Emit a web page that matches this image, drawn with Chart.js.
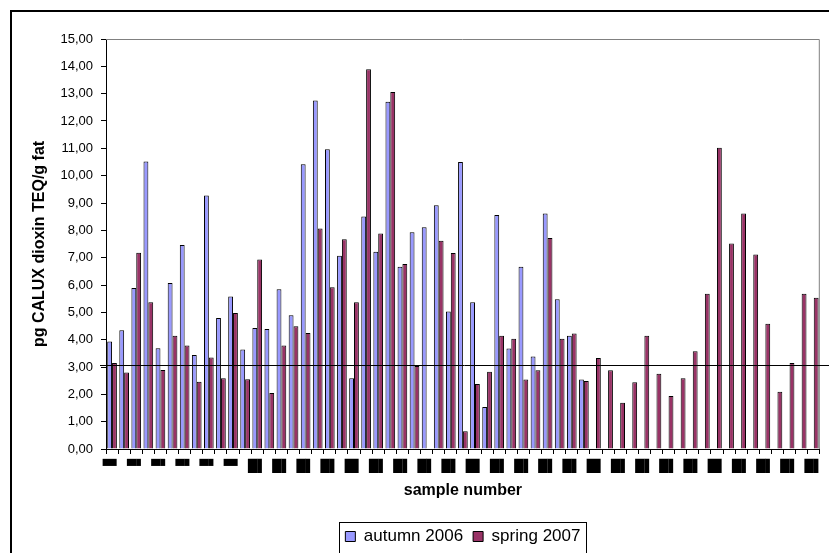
<!DOCTYPE html>
<html>
<head>
<meta charset="utf-8">
<script src="https://cdn.jsdelivr.net/npm/chart.js@4"></script>
<style>
  body { margin: 0; background: #ffffff; }
  canvas { display: block; }
</style>
</head>
<body>
<canvas id="dioxin-chart" width="829" height="553"></canvas>
<script>
/* values, one entry per sample */
const autumn2006 = [3.93, 4.34, 5.89, 10.52, 3.69, 6.07, 7.46, 3.44, 9.27, 4.79,
    5.58, 3.64, 4.43, 4.39, 5.84, 4.89, 10.42, 12.75, 10.97, 7.07,
    2.59, 8.51, 7.22, 12.70, 6.67, 7.93, 8.11, 8.92, 5.03, 10.50,
    5.37, 1.54, 8.56, 3.68, 6.67, 3.38, 8.62, 5.48, 4.14, 2.54,
    null, null, null, null, null, null, null, null, null, null,
    null, null, null, null, null, null, null, null, null];

const spring2007 = [3.15, 2.80, 7.18, 5.37, 2.89, 4.14, 3.79, 2.46, 3.35, 2.59,
    4.98, 2.55, 6.93, 2.05, 3.79, 4.49, 4.24, 8.07, 5.92, 7.67,
    5.37, 13.89, 7.88, 13.06, 6.77, 3.04, null, 7.62, 7.17, 0.65,
    2.38, 2.83, 4.14, 4.03, 2.54, 2.88, 7.72, 4.03, 4.23, 2.49,
    3.33, 2.88, 1.69, 2.44, 4.14, 2.75, 1.94, 2.59, 3.58, 5.68,
    11.02, 7.52, 8.62, 7.12, 4.58, 2.09, 3.15, 5.68, 5.53];

// sample numbers are blacked out in the source, one label every second sample
const sampleTickLabels = ['▀▘', '▀▘', '▀▘', '▀▘', '▀▘', '▀▘', '█▌', '█▌', '█▌', '█▌',
    '█▌', '█▌', '█▌', '█▌', '█▌', '█▌', '█▌', '█▌', '█▌', '█▌',
    '█▌', '█▌', '█▌', '█▌', '█▌', '█▌', '█▌', '█▌', '█▌', '█▌'];

const referenceLevel = 3.08;

const yTicks = { min: 0, max: 15, step: 1 };

const categories = autumn2006.map((v, i) => (i % 2 === 0 ? sampleTickLabels[i / 2] : ''));

/* cadres: bordure extérieure, bord gris de la zone de tracé, ligne de référence, cadre de légende */
const chartFrames = {
    id: 'chartFrames',
    afterLayout(chart) {
        // la légende est centrée sous la zone de tracé, pas sous tout le canvas
        const legend = chart.legend;
        legend.left = chart.chartArea.left;
        legend.right = chart.chartArea.right;
        legend.top += 2;
        legend.bottom += 2;
    },
    beforeDatasetsDraw(chart) {
        const { ctx, chartArea } = chart;
        ctx.save();
        ctx.strokeStyle = '#808080';
        ctx.lineWidth = 1;
        ctx.beginPath();
        ctx.moveTo(chartArea.left, chartArea.top + 0.5);
        ctx.lineTo(chartArea.right - 0.5, chartArea.top + 0.5);
        ctx.lineTo(chartArea.right - 0.5, chartArea.bottom);
        ctx.stroke();
        ctx.restore();
    },
    afterDatasetsDraw(chart) {
        const { ctx, chartArea } = chart;
        const y = Math.round(chart.scales.y.getPixelForValue(referenceLevel)) + 0.5;
        ctx.save();
        ctx.strokeStyle = '#000000';
        ctx.lineWidth = 1;
        ctx.beginPath();
        ctx.moveTo(chartArea.left - 6, y);
        ctx.lineTo(chart.width, y);
        ctx.stroke();
        ctx.restore();
    },
    afterDraw(chart) {
        const ctx = chart.ctx;
        ctx.save();
        ctx.strokeStyle = '#000000';
        ctx.lineWidth = 2;
        ctx.strokeRect(11, 11, chart.width + 20, chart.height + 20);

        const boxes = chart.legend.legendHitBoxes;
        if (boxes && boxes.length) {
            const first = boxes[0];
            const last = boxes[boxes.length - 1];
            const left = first.left - 6;
            const right = last.left + last.width + 6;
            const top = first.top - 6;
            ctx.lineWidth = 1;
            ctx.strokeRect(Math.round(left) + 0.5, Math.round(top) + 0.5, Math.round(right - left), 60);
        }
        ctx.restore();
    }
};

const ctx = document.getElementById('dioxin-chart').getContext('2d');

new Chart(ctx, {
    type: 'bar',
    data: {
        labels: categories,
        datasets: [
            {
                label: 'autumn 2006',
                data: autumn2006,
                backgroundColor: '#9999FF',
                borderColor: '#000000',
                borderWidth: 1,
                categoryPercentage: 0.8,
                barPercentage: 1.0
            },
            {
                label: 'spring 2007',
                data: spring2007,
                backgroundColor: '#993366',
                borderColor: '#000000',
                borderWidth: 1,
                categoryPercentage: 0.8,
                barPercentage: 1.0
            }
        ]
    },
    options: {
        responsive: false,
        animation: false,
        devicePixelRatio: 1,
        layout: { padding: { left: 26, top: 39, right: 2, bottom: 0 } },
        scales: {
            x: {
                grid: {
                    offset: true,
                    drawOnChartArea: false,
                    drawTicks: true,
                    tickLength: 5,
                    color: '#000000'
                },
                border: { display: true, color: '#000000', width: 1 },
                ticks: {
                    autoSkip: false,
                    maxRotation: 0,
                    minRotation: 0,
                    padding: 6,
                    color: '#000000',
                    font: { family: 'DejaVu Sans', size: 12 }
                },
                title: {
                    display: true,
                    text: 'sample number',
                    color: '#000000',
                    font: { family: 'Liberation Sans', size: 16, weight: 'bold' },
                    padding: { top: 0, bottom: 16 }
                },
                afterFit(scale) { scale.height = 67; }
            },
            y: {
                min: yTicks.min,
                max: yTicks.max,
                grid: {
                    drawOnChartArea: false,
                    drawTicks: true,
                    tickLength: 5,
                    color: '#000000'
                },
                border: { display: true, color: '#000000', width: 1 },
                ticks: {
                    stepSize: yTicks.step,
                    padding: 8,
                    color: '#000000',
                    font: { family: 'Liberation Sans', size: 13 },
                    callback: (value) => Number(value).toFixed(2).replace('.', ',')
                },
                title: {
                    display: true,
                    text: 'pg CALUX dioxin TEQ/g fat',
                    color: '#000000',
                    font: { family: 'Liberation Sans', size: 16, weight: 'bold' },
                    padding: { top: 4, bottom: 0 }
                },
                afterFit(scale) { scale.width = 80; }
            }
        },
        plugins: {
            legend: {
                position: 'bottom',
                labels: {
                    color: '#000000',
                    boxWidth: 10,
                    boxHeight: 10,
                    padding: 10,
                    font: { family: 'Liberation Sans', size: 17 }
                }
            },
            tooltip: { enabled: false }
        }
    },
    plugins: [chartFrames]
});
</script>
</body>
</html>
